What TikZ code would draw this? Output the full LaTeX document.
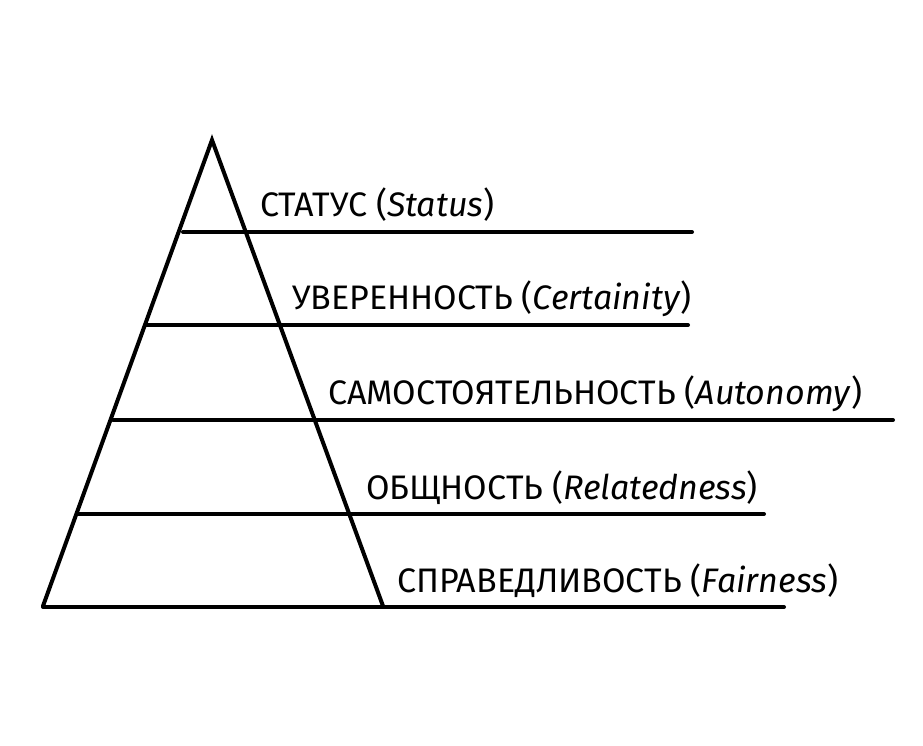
\documentclass[tikz,border=0pt]{standalone}
\usepackage{fontspec}
\setmainfont{Fira Sans}
\begin{document}
\begin{tikzpicture}[x=1pt, y=-1pt]
    \tikzset{
        brushLine/.style={line width=4pt, line cap=round},
        levelLabel/.style={anchor=base west, inner sep=0pt, font=\fontsize{34}{34}\selectfont},
    }
    \useasboundingbox (0,0) rectangle (923,745);

    % Define vertices of the pyramid
    \coordinate (apex) at (212,140);
    \coordinate (baseL) at (43,606);
    \coordinate (baseR) at (383,606);

    % Draw the two sides
    \draw[brushLine] (baseL) -- (apex) -- (baseR);

    % Draw the level lines
    \foreach \lvl/\y/\xa/\xb in {1/232/183/692, 2/325/146/688, 3/420/113/893, 4/514/78/764, 5/607/43/784} {
        \coordinate (left\lvl) at (\xa,\y);
        \coordinate (right\lvl) at (\xb,\y);
        \draw[brushLine] (left\lvl) -- (right\lvl);
    }

    % Label the levels
    \node[levelLabel] (status) at (260,216) {СТАТУС (\textit{Status})};
    \node[levelLabel] (certainty) at (292,309) {УВЕРЕННОСТЬ (\textit{Certainity})};
    \node[levelLabel] (autonomy) at (328,404) {САМОСТОЯТЕЛЬНОСТЬ (\textit{Autonomy})};
    \node[levelLabel] (relatedness) at (366,499) {ОБЩНОСТЬ (\textit{Relatedness})};
    \node[levelLabel] (fairness) at (397,592) {СПРАВЕДЛИВОСТЬ (\textit{Fairness})};

\end{tikzpicture}
\end{document}
